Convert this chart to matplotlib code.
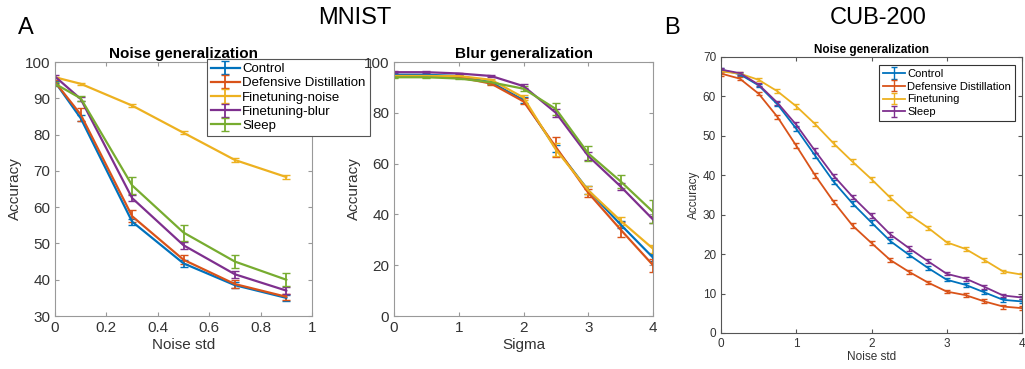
import matplotlib.pyplot as plt

plt.rcParams['font.family'] = ['Liberation Sans', 'DejaVu Sans']

colors = ['#0072BD', '#D95319', '#EDB120', '#7E2F8E', '#77AC30']

# MNIST noise
noise_x = [0, 0.1, 0.3, 0.5, 0.7, 0.9]
noise_labels = ['Control', 'Defensive Distillation', 'Finetuning-noise', 'Finetuning-blur', 'Sleep']
noise_control = [94.5, 84.5, 56.0, 44.5, 38.5, 35.0]
noise_dd = [94.5, 85.5, 57.5, 45.5, 38.8, 35.3]
noise_ftn = [95.8, 94.0, 88.0, 80.5, 73.0, 68.3]
noise_ftb = [96.0, 89.8, 62.5, 49.5, 41.5, 37.0]
noise_sleep = [94.0, 90.0, 66.0, 53.0, 45.0, 40.0]
noise_err_control = [0.4, 0.8, 0.8, 0.9, 0.8, 0.8]
noise_err_dd = [0.5, 1.8, 1.6, 1.3, 1.0, 0.8]
noise_err_ftn = [0.2, 0.3, 0.4, 0.4, 0.5, 0.6]
noise_err_ftb = [0.4, 0.6, 0.8, 0.9, 0.9, 0.9]
noise_err_sleep = [0.5, 0.7, 2.3, 2.2, 1.9, 1.8]

# MNIST blur
blur_x = [0, 0.5, 1, 1.5, 2, 2.5, 3, 3.5, 4]
blur_control = [95.0, 95.0, 94.5, 92.0, 85.0, 66.0, 49.5, 36.0, 23.0]
blur_dd = [94.5, 94.5, 94.0, 91.5, 84.5, 66.5, 48.5, 34.0, 20.0]
blur_ftn = [94.5, 94.5, 94.5, 93.0, 86.0, 65.5, 49.5, 37.5, 26.5]
blur_ftb = [96.0, 96.0, 95.5, 94.5, 90.5, 80.0, 63.0, 51.0, 38.0]
blur_sleep = [94.0, 94.0, 93.5, 92.0, 89.5, 81.5, 64.0, 53.0, 41.0]
blur_err_control = [0.3, 0.3, 0.3, 0.5, 1.2, 1.5, 1.5, 1.5, 1.5]
blur_err_dd = [0.3, 0.3, 0.3, 0.7, 1.2, 4.0, 1.5, 3.0, 2.5]
blur_err_ftn = [0.3, 0.3, 0.3, 0.5, 1.0, 2.5, 1.5, 1.5, 1.5]
blur_err_ftb = [0.3, 0.3, 0.3, 0.5, 0.8, 1.5, 1.5, 1.5, 1.5]
blur_err_sleep = [0.3, 0.3, 0.3, 0.7, 1.0, 2.5, 3.0, 2.5, 4.5]

# CUB-200 noise
cub_x = [0, 0.25, 0.5, 0.75, 1, 1.25, 1.5, 1.75, 2, 2.25, 2.5, 2.75, 3, 3.25, 3.5, 3.75, 4]
cub_labels = ['Control', 'Defensive Distillation', 'Finetuning', 'Sleep']
cub_control = [66.8, 65.6, 62.8, 58.0, 51.8, 45.0, 38.3, 32.8, 28.0, 23.3, 19.8, 16.5, 13.5, 12.2, 10.3, 8.4, 8.0]
cub_dd = [65.8, 64.5, 60.7, 54.8, 47.5, 40.0, 33.2, 27.2, 22.8, 18.5, 15.5, 12.8, 10.5, 9.6, 8.0, 6.7, 6.3]
cub_ft = [66.3, 65.8, 64.2, 61.3, 57.5, 53.0, 48.0, 43.4, 39.0, 34.3, 30.0, 26.7, 23.0, 21.3, 18.5, 15.6, 14.8]
cub_sleep = [66.8, 65.9, 63.0, 58.4, 52.8, 46.2, 39.8, 34.5, 29.8, 25.0, 21.5, 18.2, 15.0, 13.8, 11.7, 9.5, 9.0]
cub_err = [0.5, 0.4, 0.4, 0.5, 0.6, 0.6, 0.6, 0.6, 0.6, 0.6, 0.6, 0.5, 0.4, 0.5, 0.5, 0.5, 0.5]

fig = plt.figure(figsize=(10.25, 3.69), dpi=100)
ax1 = fig.add_axes([0.0537, 0.1436, 0.2507, 0.6883])
ax2 = fig.add_axes([0.3844, 0.1436, 0.2527, 0.6883])
ax3 = fig.add_axes([0.7034, 0.0976, 0.2937, 0.748])


def style(ax, fs, edge):
    for s in ax.spines.values():
        s.set_color(edge)
        s.set_linewidth(0.8)
    ax.tick_params(direction='in', top=True, right=True, labelsize=fs,
                   colors='#333333', length=3, width=0.8)
    ax.tick_params(axis='both', color=edge)


series = [noise_control, noise_dd, noise_ftn, noise_ftb, noise_sleep]
errs = [noise_err_control, noise_err_dd, noise_err_ftn, noise_err_ftb, noise_err_sleep]
for y, e, c, lab in zip(series, errs, colors, noise_labels):
    ax1.errorbar(noise_x, y, yerr=e, color=c, lw=1.6, capsize=3, elinewidth=1.3, label=lab)
ax1.set_xlim(0, 1)
ax1.set_ylim(30, 100)
ax1.set_xticks([0, 0.2, 0.4, 0.6, 0.8, 1])
ax1.set_xticklabels(['0', '0.2', '0.4', '0.6', '0.8', '1'])
ax1.set_yticks(range(30, 101, 10))
ax1.set_xlabel('Noise std', fontsize=11, color='#333333', labelpad=2)
ax1.set_ylabel('Accuracy', fontsize=11, color='#333333', labelpad=2)
ax1.set_title('Noise generalization', fontsize=11, fontweight='bold', pad=3)
style(ax1, 11, '#999999')
leg = ax1.legend(loc='upper left', bbox_to_anchor=(0.59, 1.012), borderaxespad=0,
                 fontsize=9.5, fancybox=False, framealpha=1, edgecolor='#555555',
                 handlelength=2.2, handletextpad=0.2, labelspacing=0.15, borderpad=0.3)
leg.get_frame().set_linewidth(0.8)
leg.set_zorder(10)

series = [blur_control, blur_dd, blur_ftn, blur_ftb, blur_sleep]
errs = [blur_err_control, blur_err_dd, blur_err_ftn, blur_err_ftb, blur_err_sleep]
for y, e, c in zip(series, errs, colors):
    ax2.errorbar(blur_x, y, yerr=e, color=c, lw=1.6, capsize=3, elinewidth=1.3)
ax2.set_xlim(0, 4)
ax2.set_ylim(0, 100)
ax2.set_xticks([0, 1, 2, 3, 4])
ax2.set_yticks(range(0, 101, 20))
ax2.set_xlabel('Sigma', fontsize=11, color='#333333', labelpad=2)
ax2.set_ylabel('Accuracy', fontsize=11, color='#333333', labelpad=2)
ax2.set_title('Blur generalization', fontsize=11, fontweight='bold', pad=3)
style(ax2, 11, '#999999')

series = [cub_control, cub_dd, cub_ft, cub_sleep]
for y, c, lab in zip(series, colors[:4], cub_labels):
    ax3.errorbar(cub_x, y, yerr=cub_err, color=c, lw=1.3, capsize=2, elinewidth=1.0, label=lab)
ax3.set_xlim(0, 4)
ax3.set_ylim(0, 70)
ax3.set_xticks([0, 1, 2, 3, 4])
ax3.set_yticks(range(0, 71, 10))
ax3.set_xlabel('Noise std', fontsize=8.5, color='#333333', labelpad=1)
ax3.set_ylabel('Accuracy', fontsize=8.5, color='#333333', labelpad=2)
ax3.set_title('Noise generalization', fontsize=8.5, fontweight='bold', pad=3)
style(ax3, 8.5, '#555555')
leg3 = ax3.legend(loc='upper right', bbox_to_anchor=(0.977, 0.971), borderaxespad=0,
                  fontsize=8, fancybox=False, framealpha=1, edgecolor='#333333',
                  handlelength=2.0, handletextpad=0.2, labelspacing=0.25, borderpad=0.35)
leg3.get_frame().set_linewidth(0.8)

fig.text(0.346, 0.95, 'MNIST', fontsize=17, ha='center', va='center')
fig.text(0.857, 0.95, 'CUB-200', fontsize=17, ha='center', va='center')
fig.text(0.025, 0.925, 'A', fontsize=17, ha='center', va='center')
fig.text(0.656, 0.925, 'B', fontsize=17, ha='center', va='center')

fig.savefig('out.png', dpi=100)
